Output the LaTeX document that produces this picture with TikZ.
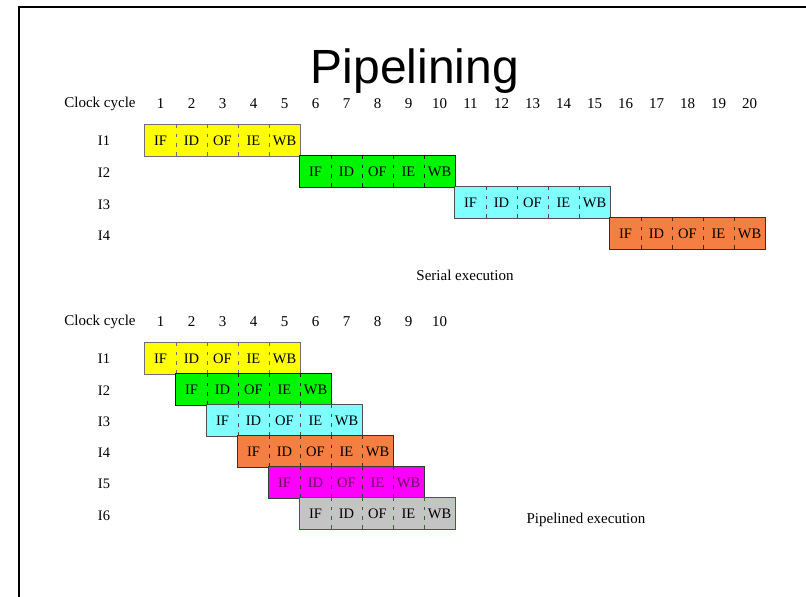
\documentclass[tikz,border=0pt]{standalone}
\usepackage{fontspec}
\setmainfont{Liberation Serif}
\newfontfamily\titlefont{Liberation Sans}
\definecolor{cyellow}{HTML}{FFFF00}
\definecolor{byellow}{HTML}{707070}
\definecolor{cgreen}{HTML}{00F500}
\definecolor{bgreen}{HTML}{1A1A1A}
\definecolor{ccyan}{HTML}{80FFFF}
\definecolor{bcyan}{HTML}{505050}
\definecolor{corange}{HTML}{F57F42}
\definecolor{borange}{HTML}{4A2A10}
\definecolor{cmagenta}{HTML}{FF00FF}
\definecolor{bmagenta}{HTML}{2F3F2F}
\definecolor{tmagenta}{HTML}{6A1060}
\definecolor{cgray}{HTML}{C4C4C4}
\definecolor{bgray}{HTML}{2E6B2E}
\tikzset{
  cell/.style={minimum width=31pt, minimum height=31pt, inner sep=0pt,
    text height=9.8pt, text depth=0pt, font=\fontsize{14.5}{15}\selectfont},
  divider/.style={line width=0.8pt, dash pattern=on 3.5pt off 5.6pt},
  boxline/.style={line width=0.9pt},
  lbl/.style={font=\fontsize{15}{16}\selectfont, inner sep=0pt},
  rowlbl/.style={font=\fontsize{14.5}{16}\selectfont, inner sep=0pt},
  frameline/.style={line width=2.5pt, line cap=rect}
}
\newcommand{\pipebox}[6]{%
  \fill[#4] (#2,#3) rectangle ++(155,31);
  \foreach \t [count=\k] in {IF,ID,OF,IE,WB}{
    \node[cell, text=#6] (#1-\k) at ({#2+(\k-0.5)*31},{#3+15.5}) {\t};
  }
  \foreach \k in {1,...,4}{\draw[divider,#5] (#1-\k.north east) -- (#1-\k.south east);}
  \draw[boxline,#5] (#1-1.north west) rectangle (#1-5.south east);
}
\begin{document}
\begin{tikzpicture}[x=1pt,y=-1pt]
\useasboundingbox (0,0) rectangle (806,597);
% frame
\coordinate (fb) at (19,605);
\coordinate (fc) at (19,7);
\coordinate (fr) at (815,7);
\draw[frameline] (fb) -- (fc) -- (fr);
% title
\node[anchor=base, inner sep=0pt, font=\titlefont\fontsize{48}{50}\selectfont] (title) at (415,83) {Pipelining};
% serial execution
\node[lbl] (cc1) at (100,104) {Clock cycle};
\foreach \i in {1,...,20}{
  \node[lbl] (sn\i) at ({160.5+(\i-1)*31},104) {\i};
}
\foreach \i/\y in {1/141,2/173,3/205,4/236}{
  \node[rowlbl] (sl\i) at (104,\y) {I\i};
}
\pipebox{s1}{145}{125}{cyellow}{byellow}{black}
\pipebox{s2}{300}{156}{cgreen}{bgreen}{black}
\pipebox{s3}{455}{187}{ccyan}{bcyan}{black}
\pipebox{s4}{610}{218}{corange}{borange}{black}
\node[lbl] (serial) at (465,275) {Serial execution};
% pipelined execution
\node[lbl] (cc2) at (100,322) {Clock cycle};
\foreach \i in {1,...,10}{
  \node[lbl] (pn\i) at ({160.5+(\i-1)*31},322) {\i};
}
\foreach \i/\y in {1/359,2/391,3/422,4/453,5/484,6/516}{
  \node[rowlbl] (pl\i) at (104,\y) {I\i};
}
\pipebox{p1}{145}{343}{cyellow}{byellow}{black}
\pipebox{p2}{176}{374}{cgreen}{bgreen}{black}
\pipebox{p3}{207}{405}{ccyan}{bcyan}{black}
\pipebox{p4}{238}{436}{corange}{borange}{black}
\pipebox{p5}{269}{467}{cmagenta}{bmagenta}{tmagenta}
\pipebox{p6}{300}{498}{cgray}{bgray}{black}
\node[lbl] (piped) at (586,520) {Pipelined execution};
\end{tikzpicture}
\end{document}
